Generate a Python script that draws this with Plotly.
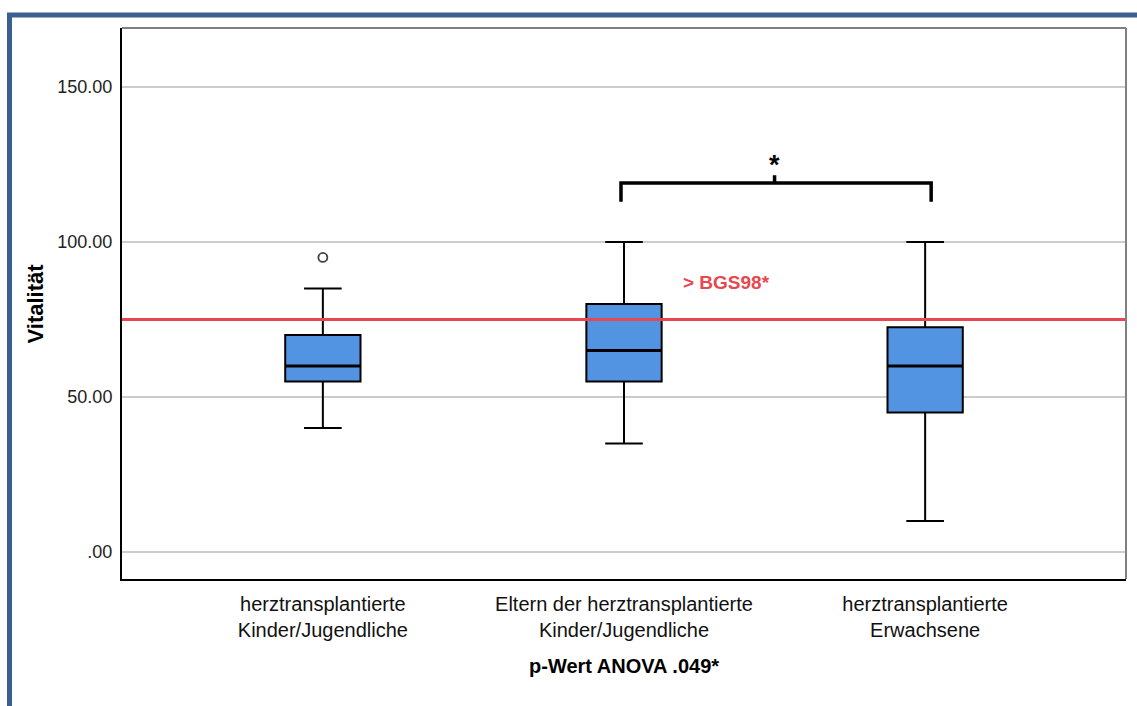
import plotly.graph_objects as go

# ---- data ----
categories = ["herztransplantierte<br>Kinder/Jugendliche",
              "Eltern der herztransplantierte<br>Kinder/Jugendliche",
              "herztransplantierte<br>Erwachsene"]
positions = [0, 1, 2]
q1 = [55, 55, 45]
median = [60, 65, 60]
q3 = [70, 80, 72.5]
lower = [40, 35, 10]
upper = [85, 100, 100]
outlier_x = [0]
outlier_y = [95]
ref_value = 75
ref_label = "&gt; BGS98*"
bracket_y = 119
bracket_drop = 113
bracket_peak = 121.5
y_ticks = [0, 50, 100, 150]
y_ticktext = [".00", "50.00", "100.00", "150.00"]

FONT = "Liberation Sans, Arial, sans-serif"
W, H = 1137, 706
L, R, T, B = 122, 11, 28, 127
pw, ph = W - L - R, H - T - B
BOX_W = 0.25

def px_x(p):
    return (p - L) / pw

def px_y(p):
    return (H - B - p) / ph

fig = go.Figure()

fig.add_trace(go.Box(
    x=positions, q1=q1, median=median, q3=q3,
    lowerfence=lower, upperfence=upper,
    width=BOX_W, whiskerwidth=0.5,
    fillcolor="#5294e2",
    line=dict(color="black", width=2),
    boxpoints=False, hoverinfo="skip", showlegend=False,
))

# thicker median lines
mx, my = [], []
for p, m in zip(positions, median):
    mx += [p - BOX_W / 2, p + BOX_W / 2, None]
    my += [m, m, None]
fig.add_trace(go.Scatter(x=mx, y=my, mode="lines",
                         line=dict(color="black", width=3.2),
                         showlegend=False, hoverinfo="skip"))

fig.add_trace(go.Scatter(
    x=outlier_x, y=outlier_y, mode="markers",
    marker=dict(symbol="circle-open", size=9, color="#444444",
                line=dict(width=1.8, color="#444444")),
    showlegend=False, hoverinfo="skip",
))

# significance bracket between group 2 and 3
bx0, bx1 = positions[1] - 0.01, positions[2] + 0.02
bmid = (positions[1] + positions[2]) / 2
fig.add_trace(go.Scatter(
    x=[bx0, bx0, bmid, bmid, bmid, bx1, bx1],
    y=[bracket_drop, bracket_y, bracket_y, bracket_peak, bracket_y, bracket_y, bracket_drop],
    mode="lines", line=dict(color="black", width=3.5),
    showlegend=False, hoverinfo="skip",
))
fig.add_annotation(x=bmid, y=bracket_peak, yanchor="bottom", text="<b>*</b>",
                   showarrow=False, font=dict(family=FONT, size=27, color="black"),
                   yshift=-7)

# reference line
fig.add_shape(type="line", xref="paper", yref="y", x0=0, x1=1,
              y0=ref_value, y1=ref_value,
              line=dict(color="#e8474f", width=3))
fig.add_annotation(x=1.34, y=86.8, text="<b>" + ref_label + "</b>", showarrow=False,
                   font=dict(family=FONT, size=19, color="#e8474f"))

# plot frame top/right in gray
fig.add_shape(type="line", xref="paper", yref="paper", x0=0, x1=1, y0=1, y1=1,
              line=dict(color="#808080", width=2))
fig.add_shape(type="line", xref="paper", yref="paper", x0=1, x1=1, y0=0, y1=1,
              line=dict(color="#808080", width=2))

# outer blue frame
fig.add_shape(type="line", xref="paper", yref="paper",
              x0=px_x(7), x1=px_x(W + 5), y0=px_y(15), y1=px_y(15),
              line=dict(color="#3b5f8e", width=5))
fig.add_shape(type="line", xref="paper", yref="paper",
              x0=px_x(9.5), x1=px_x(9.5), y0=px_y(13), y1=px_y(H + 5),
              line=dict(color="#3b5f8e", width=5))

# axis titles
fig.add_annotation(xref="paper", yref="paper", x=0.5, y=px_y(666),
                   xanchor="center", yanchor="middle",
                   text="<b>p-Wert ANOVA .049*</b>", showarrow=False,
                   font=dict(family=FONT, size=20, color="black"))
fig.add_annotation(xref="paper", yref="paper", x=px_x(35), y=0.5,
                   xanchor="center", yanchor="middle",
                   text="<b>Vitalität</b>", textangle=-90, showarrow=False,
                   font=dict(family=FONT, size=22, color="black"))

fig.update_layout(
    width=W, height=H,
    margin=dict(l=L, r=R, t=T, b=B),
    paper_bgcolor="white", plot_bgcolor="white",
    font=dict(family=FONT, color="black"),
    xaxis=dict(range=[-0.667, 2.667], tickvals=positions, ticktext=categories,
               showgrid=False, zeroline=False, showline=True, linecolor="black",
               linewidth=2, ticks="", tickfont=dict(size=20, color="#111111"),
               ticklabelstandoff=6),
    yaxis=dict(range=[-8.7, 169], tickvals=y_ticks, ticktext=y_ticktext,
               showgrid=True, gridcolor="#cccccc", gridwidth=2, zeroline=False,
               showline=True, linecolor="black", linewidth=2, ticks="",
               tickfont=dict(size=18, color="#222222"), ticklabelstandoff=4),
)

fig.write_html("out.html")
